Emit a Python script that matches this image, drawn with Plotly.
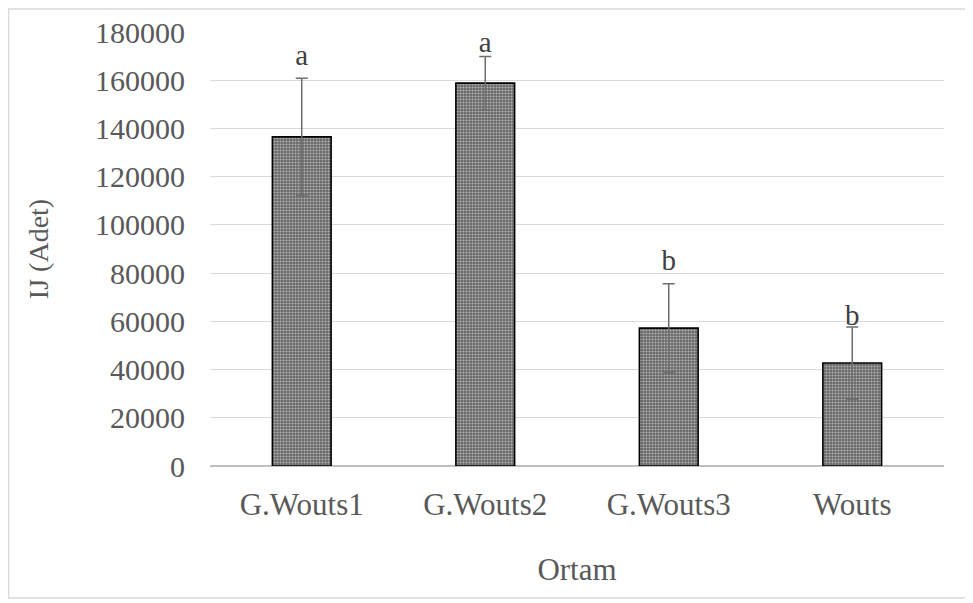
import plotly.graph_objects as go

categories = ["G.Wouts1", "G.Wouts2", "G.Wouts3", "Wouts"]
means = [136500, 158800, 57200, 42700]
errors = [24300, 11000, 18400, 15000]
letters = ["a", "a", "b", "b"]
letter_y = [169200, 174600, 84200, 61400]
y_ticks = [0, 20000, 40000, 60000, 80000, 100000, 120000, 140000, 160000, 180000]

FONT = "Liberation Serif"
GRAY = "#595959"

fig = go.Figure()
fig.add_trace(go.Bar(
    x=categories, y=means, width=0.32,
    marker=dict(color="#707070", line=dict(color="black", width=1.6),
                pattern=dict(shape=".", fgcolor="white", bgcolor="#666666", size=3, solidity=0.4)),
    error_y=dict(type="data", array=errors, visible=True, color="#6e6e6e", thickness=1.5, width=6),
    showlegend=False,
))
fig.add_trace(go.Scatter(
    x=categories, y=letter_y, mode="text", text=letters,
    textfont=dict(family=FONT, size=29, color="#404040"),
    showlegend=False, hoverinfo="skip",
))

fig.update_layout(
    width=965, height=595,
    paper_bgcolor="white", plot_bgcolor="white",
    margin=dict(l=202, r=29, t=24, b=137),
    font=dict(family=FONT, color=GRAY),
    xaxis=dict(showgrid=False, tickfont=dict(size=31, color=GRAY), automargin=False,
               title=dict(text="Ortam", font=dict(size=31, color=GRAY), standoff=37),
               ticks="", showline=False, ticklabelstandoff=17),
    yaxis=dict(range=[0, 180000], tickvals=y_ticks, ticktext=[str(v) for v in y_ticks],
               tickfont=dict(size=30, color=GRAY), gridcolor="#d9d9d9", gridwidth=1,
               zeroline=True, zerolinecolor="#bfbfbf", zerolinewidth=1.5, automargin=False,
               ticks="", ticklabelstandoff=24,
               title=dict(text="IJ (Adet)", font=dict(size=28, color=GRAY), standoff=38)),
    shapes=[dict(type="rect", xref="paper", yref="paper", x0=-0.2745, x1=1.0327, y0=-0.304, y1=1.053,
                 line=dict(color="#d9d9d9", width=1.5))],
)
fig.write_html("out.html")
